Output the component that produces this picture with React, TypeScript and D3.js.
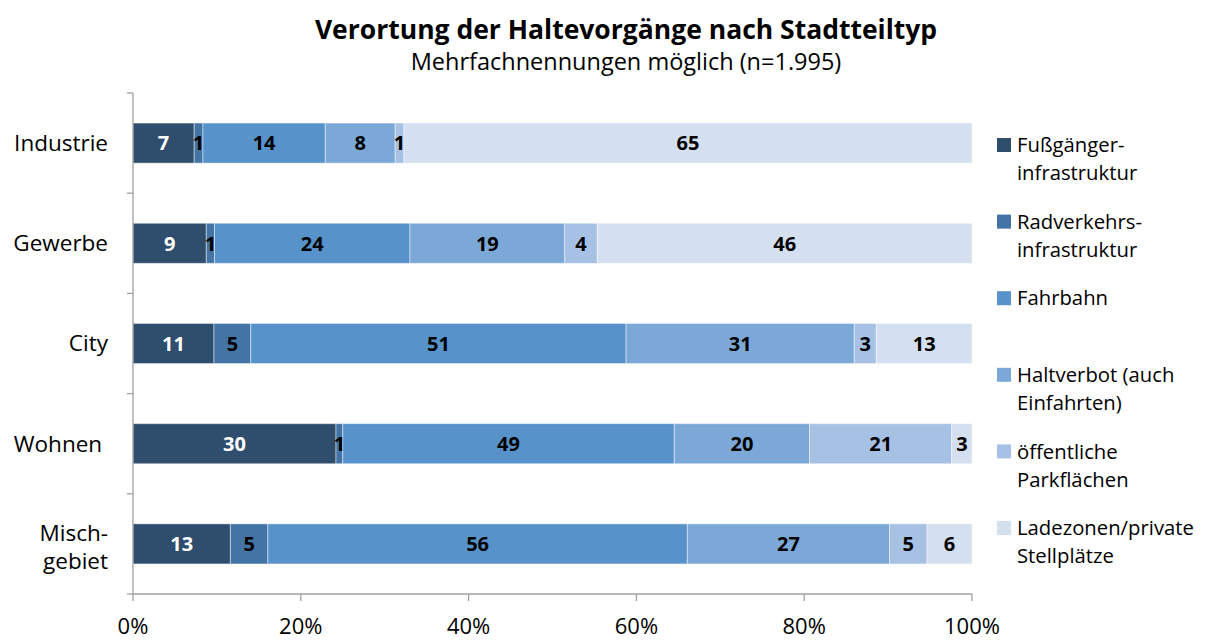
import React from "react";
import * as d3 from "d3";

const categories = ["Industrie", "Gewerbe", "City", "Wohnen ", "Misch-\ngebiet"];
const seriesNames = [
  "Fußgänger-\ninfrastruktur",
  "Radverkehrs-\ninfrastruktur",
  "Fahrbahn",
  "Haltverbot (auch\nEinfahrten)",
  "öffentliche\nParkflächen",
  "Ladezonen/private\nStellplätze",
];
const fussgaenger = [7, 9, 11, 30, 13];
const radverkehr = [1, 1, 5, 1, 5];
const fahrbahn = [14, 24, 51, 49, 56];
const haltverbot = [8, 19, 31, 20, 27];
const parkflaechen = [1, 4, 3, 21, 5];
const ladezonen = [65, 46, 13, 3, 6];
const xTicks = [0, 0.2, 0.4, 0.6, 0.8, 1];

const colors = ["#2F4E6D", "#4374A5", "#5793CA", "#7CA8D8", "#A6C1E4", "#D4DFEF"];
const labelColors = ["#ffffff", "#000000", "#000000", "#000000", "#000000", "#000000"];

const FONT = "'Open Sans', Lato, sans-serif";

export default function App() {
  const W = 1209, H = 640;
  const left = 133, right = 972, top = 93, bottom = 594;
  const keys = ["s0", "s1", "s2", "s3", "s4", "s5"];
  const all = [fussgaenger, radverkehr, fahrbahn, haltverbot, parkflaechen, ladezonen];
  const rows = categories.map((c, i) => {
    const r: any = { cat: c };
    keys.forEach((k, j) => (r[k] = all[j][i]));
    return r;
  });
  const stack = d3.stack<any>().keys(keys).offset(d3.stackOffsetExpand)(rows);
  const x = d3.scaleLinear().domain([0, 1]).range([left, right]);
  const y = d3.scaleBand<string>().domain(categories).range([top, bottom]).paddingInner(0.6).paddingOuter(0.3);
  const band = d3.scaleBand<string>().domain(categories).range([top, bottom]);
  const fmt = d3.format(".0%");

  const legendTop = 145;
  const legendStep = 76.6;

  return (
    <svg width={W} height={H} style={{ position: "absolute", left: 0, top: 0, background: "#fff" }} fontFamily={FONT}>
      <text x={626} y={39} textAnchor="middle" fontSize={26.5} fontWeight="bold" fill="#000">
        Verortung der Haltevorgänge nach Stadtteiltyp
      </text>
      <text x={626} y={70} textAnchor="middle" fontSize={23.5} fill="#000">
        Mehrfachnennungen möglich (n=1.995)
      </text>

      {/* bars */}
      {stack.map((s, si) => (
        <g key={si}>
          {s.map((d: any, ci: number) => {
            const x0 = x(d[0]), x1 = x(d[1]);
            const yy = y(categories[ci])!;
            return (
              <rect key={ci} x={x0} y={yy} width={x1 - x0} height={y.bandwidth()} fill={colors[si]}
                stroke="rgba(255,255,255,0.45)" strokeWidth={1} />
            );
          })}
        </g>
      ))}
      {stack.map((s, si) => (
        <g key={"l" + si}>
          {s.map((d: any, ci: number) => {
            const x0 = x(d[0]), x1 = x(d[1]);
            const yy = y(categories[ci])! + y.bandwidth() / 2;
            return (
              <text key={ci} x={(x0 + x1) / 2} y={yy} dy="0.36em" textAnchor="middle" fontSize={20}
                fontWeight="bold" fill={labelColors[si]}>
                {all[si][ci]}
              </text>
            );
          })}
        </g>
      ))}

      {/* y axis */}
      <line x1={left} x2={left} y1={top} y2={bottom} stroke="#A0A0A0" strokeWidth={1.3} />
      {d3.range(categories.length + 1).map((i) => {
        const yy = top + band.step() * i;
        return <line key={i} x1={left - 6} x2={left} y1={yy} y2={yy} stroke="#A0A0A0" strokeWidth={1.3} />;
      })}
      {categories.map((c, i) => {
        const lines = c.split("\n");
        const cy = band(c)! + band.bandwidth() / 2 + (lines.length > 1 ? 3 : 0);
        const lh = 28;
        return (
          <text key={c} x={108} textAnchor="end" fontSize={22.5} fill="#000" style={{ whiteSpace: "pre" }}>
            {lines.map((l, li) => (
              <tspan key={li} x={108} y={cy + (li - (lines.length - 1) / 2) * lh} dy="0.35em">
                {l}
              </tspan>
            ))}
          </text>
        );
      })}

      {/* x axis */}
      <line x1={left} x2={right} y1={bottom} y2={bottom} stroke="#A0A0A0" strokeWidth={1.3} />
      {xTicks.map((t) => (
        <g key={t}>
          <line x1={x(t)} x2={x(t)} y1={bottom} y2={bottom + 7} stroke="#A0A0A0" strokeWidth={1.3} />
          <text x={x(t)} y={634} textAnchor="middle" fontSize={22} fill="#000">
            {fmt(t)}
          </text>
        </g>
      ))}

      {/* legend */}
      {seriesNames.map((n, i) => {
        const cy = legendTop + legendStep * i;
        const lines = n.split("\n");
        return (
          <g key={n}>
            <rect x={997} y={cy - 7} width={14} height={14} fill={colors[i]} />
            <text fontSize={20.3} fill="#000">
              {lines.map((l, li) => (
                <tspan key={li} x={1017} y={cy + li * 28} dy="0.35em">
                  {l}
                </tspan>
              ))}
            </text>
          </g>
        );
      })}
    </svg>
  );
}
